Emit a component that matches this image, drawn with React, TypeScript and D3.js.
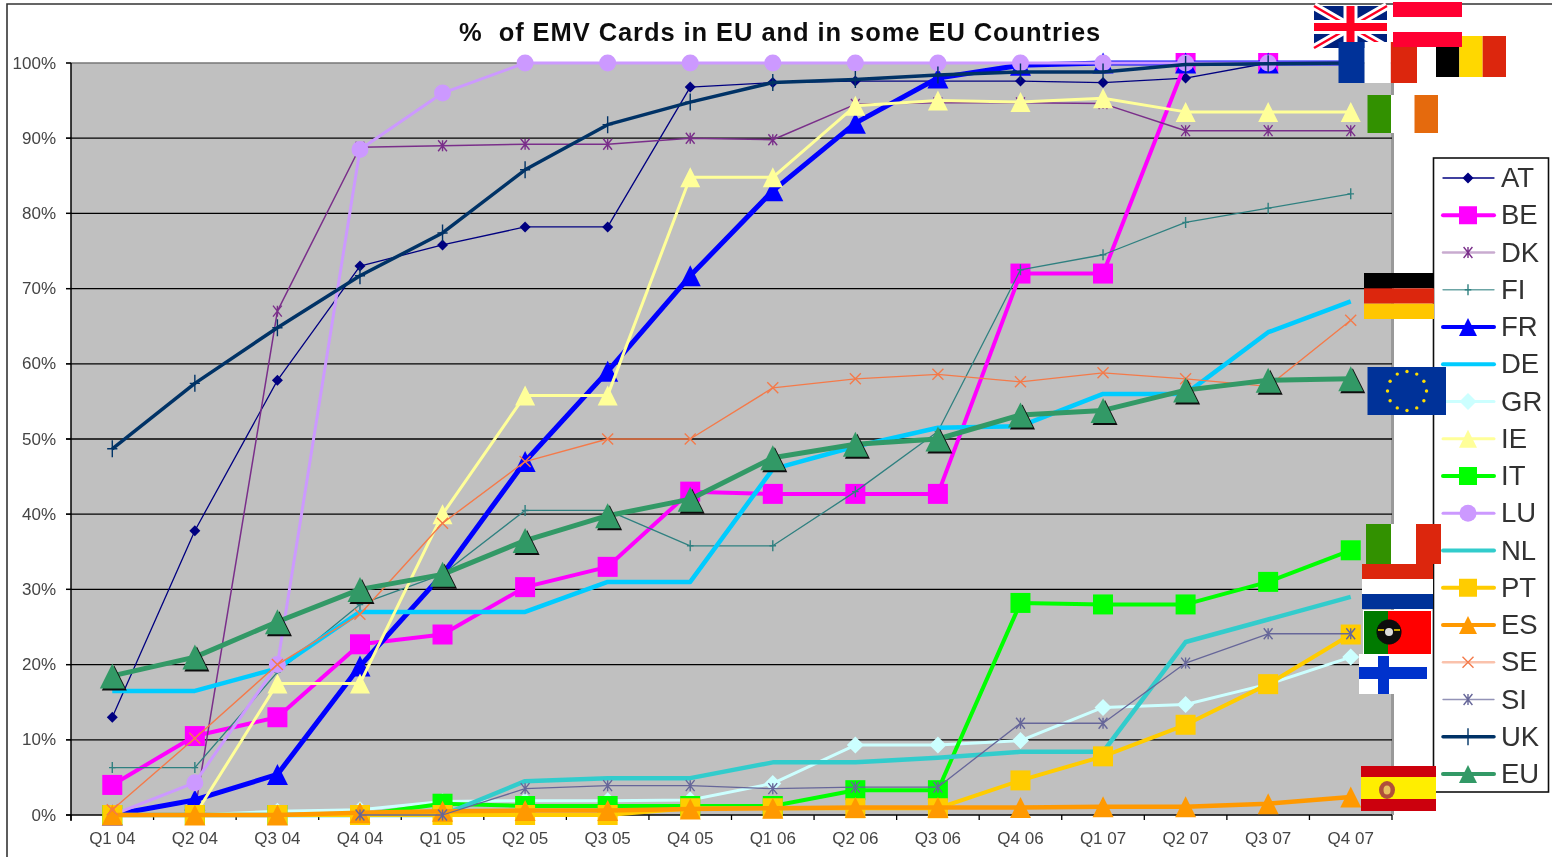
import React from "react";
import * as d3 from "d3";

const quarters = ["Q1 04","Q2 04","Q3 04","Q4 04","Q1 05","Q2 05","Q3 05","Q4 05","Q1 06","Q2 06","Q3 06","Q4 06","Q1 07","Q2 07","Q3 07","Q4 07"];
const yTicks = [0,10,20,30,40,50,60,70,80,90,100];

const AT = [13,37.8,57.8,73,75.8,78.2,78.2,96.8,97.4,97.6,97.6,97.6,97.4,98,100,100];
const BE = [4,10.5,13,22.7,24,30.3,33,43,42.7,42.7,42.7,72,72,100,100,100];
const DK = [null,0.5,67,88.8,89,89.2,89.2,90,89.8,94.5,94.7,94.7,94.6,91,91,91];
const FI = [6.3,6.3,19,28,32,40.5,40.5,35.8,35.8,43,51,72.5,74.5,78.8,80.7,82.6];
const FR = [0,2,5.4,19.8,32,47,59,71.7,83,92,98,99.7,100,100,100,100];
const DE = [16.5,16.5,19.5,27,27,27,31,31,46,49,51.5,51.7,56,56,64.2,68.3];
const GR = [0,0,0.5,0.7,1.8,1.9,1.9,2,4.2,9.3,9.3,9.9,14.3,14.7,17.4,21];
const IE = [0,0,17.5,17.5,40,55.8,55.8,84.8,84.8,94.3,95,94.8,95.3,93.5,93.5,93.5];
const IT = [0,0,0,0,1.5,1.2,1.2,1.2,1.2,3.3,3.3,28.2,28,28,31,35.2];
const LU = [0,4.3,20,88.5,96,100,100,100,100,100,100,100,100,100,100,100];
const NL = [0,0,0,0,0,4.5,4.9,4.9,7,7,7.6,8.4,8.4,23,26,29];
const PT = [0,0,0,0,0,0,0,0.9,0.9,0.9,0.9,4.6,7.8,12,17.4,24];
const ES = [0,0,0,0.3,0.5,0.6,0.6,0.8,0.9,1,1,1,1.1,1.1,1.5,2.4];
const SE = [0.7,10.2,20,26.7,38.8,47,50,50,56.8,58,58.6,57.6,58.8,58,57,65.8];
const SI = [null,null,null,0,0,3.5,3.9,3.9,3.5,3.7,3.7,12.2,12.2,20.2,24.1,24.1];
const UK = [48.7,57.4,64.8,71.7,77.4,85.8,91.8,94.8,97.4,97.8,98.4,98.8,98.8,99.8,99.9,100];
const EU = [18.5,21,25.7,30,32,36.5,39.8,42,47.5,49.3,50,53.2,53.8,56.5,57.8,58];

type S = { name: string; values: (number | null)[]; color: string; width: number; marker: string; size: number; legendOpacity?: number; legendWidth?: number };
const series: S[] = [
  { name: "AT", values: AT, color: "#000080", width: 1.3, marker: "diamond", size: 11 },
  { name: "BE", values: BE, color: "#ff00ff", width: 4, marker: "square", size: 20 },
  { name: "DK", values: DK, color: "#7a2f8a", width: 1.5, marker: "star", size: 11, legendOpacity: 0.4, legendWidth: 2.5 },
  { name: "FI", values: FI, color: "#2f8080", width: 1.3, marker: "plus", size: 11, legendOpacity: 0.7 },
  { name: "FR", values: FR, color: "#0000ff", width: 5, marker: "triangle", size: 21 },
  { name: "DE", values: DE, color: "#00ccff", width: 4.5, marker: "none", size: 0 },
  { name: "GR", values: GR, color: "#ccffff", width: 3, marker: "diamond", size: 17 },
  { name: "IE", values: IE, color: "#ffff99", width: 3, marker: "triangle", size: 20 },
  { name: "IT", values: IT, color: "#00ff00", width: 4, marker: "square", size: 20 },
  { name: "LU", values: LU, color: "#cc99ff", width: 3, marker: "circle", size: 17 },
  { name: "NL", values: NL, color: "#33cccc", width: 4.5, marker: "none", size: 0 },
  { name: "PT", values: PT, color: "#ffcc00", width: 4, marker: "square", size: 20 },
  { name: "ES", values: ES, color: "#ff9900", width: 4.5, marker: "triangle", size: 21 },
  { name: "SE", values: SE, color: "#f47a4a", width: 1.4, marker: "x", size: 11, legendOpacity: 0.45, legendWidth: 2.5 },
  { name: "SI", values: SI, color: "#666699", width: 1.3, marker: "star", size: 11, legendOpacity: 0.7 },
  { name: "UK", values: UK, color: "#003366", width: 3.5, marker: "plus", size: 17 },
  { name: "EU", values: EU, color: "#339966", width: 5, marker: "triangle", size: 25 },
];

const plot = { left: 71, right: 1392, top: 63, bottom: 815 };
const x = d3.scaleBand<string>().domain(quarters).range([plot.left, plot.right]);
const y = d3.scaleLinear().domain([0, 100]).range([plot.bottom, plot.top]);
const cx = (q: string) => (x(q) as number) + x.bandwidth() / 2;
const lineGen = d3.line<number | null>().defined((v) => v !== null).x((_, i) => cx(quarters[i])).y((v) => y(v as number));

function markerPath(kind: string, s: number) {
  const p = d3.path();
  const r = s / 2;
  if (kind === "square") p.rect(-r, -r, s, s);
  else if (kind === "diamond") { p.moveTo(0, -r); p.lineTo(r, 0); p.lineTo(0, r); p.lineTo(-r, 0); p.closePath(); }
  else if (kind === "triangle") { p.moveTo(0, -r); p.lineTo(r, r); p.lineTo(-r, r); p.closePath(); }
  else if (kind === "circle") { p.arc(0, 0, r, 0, 2 * Math.PI); }
  else if (kind === "plus") { p.moveTo(-r * 0.6, 0); p.lineTo(r * 0.6, 0); p.moveTo(0, -r); p.lineTo(0, r); }
  else if (kind === "x") { p.moveTo(-r, -r); p.lineTo(r, r); p.moveTo(r, -r); p.lineTo(-r, r); }
  else if (kind === "star") { p.moveTo(-r * 0.8, -r); p.lineTo(r * 0.8, r); p.moveTo(r * 0.8, -r); p.lineTo(-r * 0.8, r); p.moveTo(0, -r); p.lineTo(0, r); }
  return p.toString();
}
const open = (k: string) => k === "plus" || k === "x" || k === "star";

function Marker({ s, tx, ty, shadow }: { s: S; tx: number; ty: number; shadow?: boolean }) {
  if (s.marker === "none") return null;
  const d = markerPath(s.marker, s.size);
  const o = open(s.marker);
  return (
    <g transform={`translate(${tx},${ty})`}>
      {shadow && <path d={d} transform="translate(2,2)" fill="#111" />}
      <path d={d} fill={o ? "none" : s.color} stroke={o ? s.color : "none"} strokeWidth={o ? 1.4 : 0} />
    </g>
  );
}

function Stripes({ x0, y0, w, h, colors, vertical }: { x0: number; y0: number; w: number; h: number; colors: string[]; vertical?: boolean }) {
  const n = colors.length;
  return (
    <g>
      {colors.map((c, i) =>
        vertical ? (
          <rect key={i} x={x0 + (i * w) / n} y={y0} width={w / n} height={h} fill={c} />
        ) : (
          <rect key={i} x={x0} y={y0 + (i * h) / n} width={w} height={h / n} fill={c} />
        )
      )}
    </g>
  );
}

function Flags() {
  const stars = d3.range(12).map((i) => (i * Math.PI) / 6);
  return (
    <g>
      <g>
        <rect x={1314} y={6} width={73} height={42} fill="#00217e" />
        <path d="M1314 6L1387 48M1387 6L1314 48" stroke="#fff" strokeWidth={8} />
        <path d="M1314 6L1387 48M1387 6L1314 48" stroke="#ff0022" strokeWidth={2.5} />
        <path d="M1350.5 6V48M1314 27H1387" stroke="#fff" strokeWidth={14} />
        <path d="M1350.5 6V48M1314 27H1387" stroke="#ff0022" strokeWidth={8} />
      </g>
      <Stripes x0={1436} y0={36} w={70} h={41} colors={["#000", "#ffd800", "#dc2611"]} vertical />
      <Stripes x0={1338.5} y0={42} w={78.5} h={41} colors={["#003399", "#fff", "#dc2611"]} vertical />
      <Stripes x0={1393} y0={2} w={69} h={45} colors={["#ff0033", "#fff", "#ff0033"]} />
      <Stripes x0={1367.5} y0={95} w={70.5} h={38} colors={["#339100", "#fff", "#e56a10"]} vertical />
      <Stripes x0={1364} y0={273} w={70} h={46} colors={["#000", "#dc2611", "#ffc600"]} />
      <rect x={1367.5} y={367} width={78.5} height={48} fill="#003399" />
      {stars.map((a, i) => (
        <circle key={i} cx={1407 + 19.5 * Math.sin(a)} cy={391 - 19.5 * Math.cos(a)} r={1.7} fill="#ffdd00" />
      ))}
      <Stripes x0={1366} y0={524} w={75} h={40} colors={["#339100", "#fff", "#dc2611"]} vertical />
      <Stripes x0={1362} y0={564} w={71} h={45} colors={["#dc2611", "#fff", "#003399"]} />
      <rect x={1363} y={610} width={69} height={45} fill="#fff" />
      <rect x={1364} y={611} width={24} height={43} fill="#007a00" />
      <rect x={1388} y={611} width={43} height={43} fill="#ff0000" />
      <circle cx={1389} cy={632} r={12.5} fill="#0a0a0a" />
      <circle cx={1389} cy={632} r={4} fill="#ddd" />
      <path d="M1378 630h6M1394 630h6" stroke="#ffdd00" strokeWidth={1.5} />
      <rect x={1359} y={654} width={68} height={40} fill="#fff" />
      <rect x={1378} y={656} width={11} height={38} fill="#0033cc" />
      <rect x={1359} y={667} width={68} height={12} fill="#0033cc" />
      <rect x={1361} y={766} width={75} height={11} fill="#cc0011" />
      <rect x={1361} y={777} width={75} height={22} fill="#ffee00" />
      <rect x={1361} y={799} width={75} height={12} fill="#cc0011" />
      <ellipse cx={1387} cy={790} rx={8} ry={9} fill="#b0503a" />
      <ellipse cx={1387} cy={790} rx={3.5} ry={4.5} fill="#e8c060" />
    </g>
  );
}

const legendNames = series;
const legendY = d3.scalePoint<string>().domain(legendNames.map((s) => s.name)).range([178, 774]);
const font = "'Liberation Sans', Arial, sans-serif";

export default function App() {
  return (
    <svg width={1552} height={857} style={{ position: "absolute", left: 0, top: 0, background: "#fff", display: "block" }}>
      <defs>
        <filter id="soft" x="0" y="0" width="100%" height="100%" filterUnits="objectBoundingBox">
          <feGaussianBlur stdDeviation={0.65} />
        </filter>
      </defs>
      <g filter="url(#soft)" fontFamily={font}>
        <rect x={0} y={0} width={1552} height={857} fill="#fff" />
        <path d="M7 857V4H1552" fill="none" stroke="#333" strokeWidth={1.6} />
        <rect x={plot.left} y={plot.top} width={plot.right - plot.left} height={plot.bottom - plot.top} fill="#c0c0c0" />
        <rect x={plot.right - 1} y={plot.top} width={3} height={plot.bottom - plot.top} fill="#999" />
        {yTicks.map((t) => (
          <g key={t}>
            <line x1={plot.left - 5} x2={plot.right} y1={y(t)} y2={y(t)} stroke={t === 100 ? "#777" : "#000"} strokeWidth={1.3} />
            <line x1={plot.left - 5} x2={plot.left} y1={y(t)} y2={y(t)} stroke="#000" strokeWidth={1.3} />
            <text x={56} y={y(t) + 5.5} textAnchor="end" fontSize={17} fill="#444">{t}%</text>
          </g>
        ))}
        <line x1={plot.left} x2={plot.left} y1={plot.top} y2={plot.bottom + 6} stroke="#000" strokeWidth={1.5} />
        {d3.range(17).map((i) => (
          <line key={i} x1={plot.left + i * x.bandwidth()} x2={plot.left + i * x.bandwidth()} y1={plot.bottom} y2={plot.bottom + 5} stroke="#000" strokeWidth={1.3} />
        ))}
        {quarters.map((q) => (
          <text key={q} x={cx(q)} y={844} textAnchor="middle" fontSize={17} fill="#444">{q}</text>
        ))}
        <text x={459} y={41} fontSize={25.5} fontWeight={700} fill="#111" letterSpacing={0.93} style={{ whiteSpace: "pre" }}>{"%  of EMV Cards in EU and in some EU Countries"}</text>

        {series.map((s) => (
          <g key={s.name}>
            <path d={lineGen(s.values) as string} fill="none" stroke={s.color} strokeWidth={s.width} strokeLinejoin="round" />
            {s.values.map((v, i) =>
              v === null ? null : <Marker key={i} s={s} tx={cx(quarters[i])} ty={y(v)} shadow={s.name === "EU"} />
            )}
          </g>
        ))}

        <rect x={1433.5} y={158} width={115} height={634} fill="#fff" stroke="#111" strokeWidth={1.6} />
        {legendNames.map((s) => {
          const ly = legendY(s.name) as number;
          const small = { ...s, size: Math.min(s.size, 18) };
          return (
            <g key={s.name}>
              <line x1={1443} x2={1494} y1={ly} y2={ly} stroke={s.color} strokeWidth={s.legendWidth ?? (s.width > 2 ? Math.min(s.width, 4) : s.width)} opacity={s.legendOpacity ?? 1} strokeLinecap="round" />
              <Marker s={small} tx={1468} ty={ly} />
              <text x={1501} y={ly + 9} fontSize={27.5} fill="#333">{s.name}</text>
            </g>
          );
        })}
        <Flags />
      </g>
    </svg>
  );
}
